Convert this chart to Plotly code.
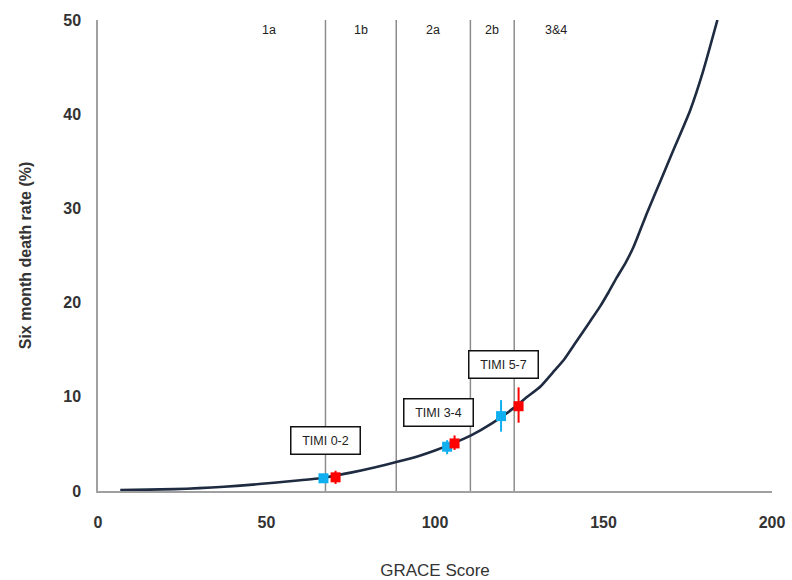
import plotly.graph_objects as go

# GRACE score risk curve
curve_x = [6.6, 15, 22.6, 30, 37.4, 45, 52.2, 60, 66, 75, 82, 88.8, 95, 100, 105, 110.7, 117, 123.3,
           127, 131.3, 135, 138.2, 142, 146, 149, 151.5, 154, 156.5, 158.9, 163, 167,
           171, 175.7, 179.5, 183.8]
curve_y = [0.1, 0.15, 0.2, 0.3, 0.45, 0.65, 0.88, 1.15, 1.35, 1.95, 2.5, 3.1, 3.7, 4.3, 5.0, 5.9, 7.2, 8.8,
           9.9, 11.1, 12.6, 13.9, 15.9, 18.0, 19.6, 21.1, 22.7, 24.2, 25.9, 29.6, 33.0,
           36.4, 40.4, 44.5, 50.0]

# GRACE class boundaries and labels
boundaries = [67.5, 88.5, 110.5, 123.5]
class_labels = ["1a", "1b", "2a", "2b", "3&4"]
class_label_x = [50.7, 78, 99.5, 117, 136]

# TIMI groups: blue and red series
timi_labels = ["TIMI 0-2", "TIMI 3-4", "TIMI 5-7"]
timi_label_x = [67.6, 100.9, 120.4]
timi_label_y = [5.4, 8.35, 13.4]

blue_x = [66.9, 103.6, 119.6]
blue_y = [1.35, 4.7, 7.95]
blue_err_up = [0.35, 0.7, 1.7]
blue_err_down = [0.35, 0.8, 1.65]

red_x = [70.5, 105.8, 124.8]
red_y = [1.45, 5.05, 9.0]
red_err_up = [0.7, 0.85, 2.0]
red_err_down = [0.7, 0.7, 1.75]

x_ticks = [0, 50, 100, 150, 200]
y_ticks = [0, 10, 20, 30, 40, 50]

FONT = "Liberation Sans, Arial"

fig = go.Figure()

for b in boundaries:
    fig.add_trace(go.Scatter(x=[b, b], y=[0, 50], mode="lines",
                             line=dict(color="#8c8c8c", width=1.5),
                             hoverinfo="skip", showlegend=False))

fig.add_trace(go.Scatter(x=curve_x, y=curve_y, mode="lines",
                         line=dict(color="#1e2b40", width=2.6, shape="spline", smoothing=0.6),
                         showlegend=False))

fig.add_trace(go.Scatter(x=blue_x, y=blue_y, mode="markers",
                         marker=dict(symbol="square", size=10, color="#10aff0"),
                         error_y=dict(type="data", array=blue_err_up, arrayminus=blue_err_down,
                                      color="#10aff0", thickness=2, width=0),
                         showlegend=False))
fig.add_trace(go.Scatter(x=red_x, y=red_y, mode="markers",
                         marker=dict(symbol="square", size=10, color="#ff0000"),
                         error_y=dict(type="data", array=red_err_up, arrayminus=red_err_down,
                                      color="#ff0000", thickness=2, width=0),
                         showlegend=False))

for lab, lx in zip(class_labels, class_label_x):
    fig.add_annotation(x=lx, y=48.9, text=lab, showarrow=False,
                       font=dict(family=FONT, size=12.5, color="#222222"))

for lab, lx, ly in zip(timi_labels, timi_label_x, timi_label_y):
    fig.add_annotation(x=lx, y=ly, text=lab, showarrow=False,
                       font=dict(family=FONT, size=12.5, color="#222222"),
                       bordercolor="#111111", borderwidth=1.5, borderpad=5,
                       bgcolor="white", width=58, height=16)

fig.update_layout(
    width=792, height=580,
    margin=dict(l=98, r=20, t=20, b=89),
    paper_bgcolor="white", plot_bgcolor="white",
    font=dict(family=FONT, color="#333333"),
    xaxis=dict(range=[0, 200], tickvals=x_ticks, showgrid=False, zeroline=False,
               showline=True, linecolor="#a0a0a0", linewidth=1.5, ticks="",
               ticklabelstandoff=16, automargin=False,
               tickfont=dict(size=16, color="#333333", family=FONT, weight="bold"),
               title=dict(text="GRACE Score", standoff=34,
                          font=dict(size=17, color="#333333"))),
    yaxis=dict(range=[0, 50], tickvals=y_ticks, showgrid=False, zeroline=False,
               showline=True, linecolor="#a0a0a0", linewidth=1.5, ticks="",
               ticklabelstandoff=12, automargin=False,
               tickfont=dict(size=16, color="#333333", family=FONT, weight="bold"),
               title=dict(text="Six month death rate (%)", standoff=28,
                          font=dict(size=16, color="#333333", weight="bold"))),
)

fig.write_html("out.html")
